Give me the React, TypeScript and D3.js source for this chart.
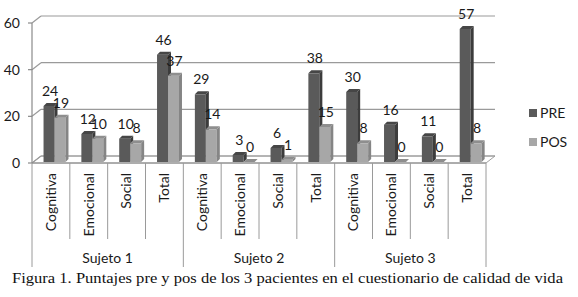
import React from 'react';
import * as d3 from 'd3';

const categories = ['Cognitiva', 'Emocional', 'Social', 'Total', 'Cognitiva', 'Emocional', 'Social', 'Total', 'Cognitiva', 'Emocional', 'Social', 'Total'];
const subjects = ['Sujeto 1', 'Sujeto 2', 'Sujeto 3'];
const preValues = [24, 12, 10, 46, 29, 3, 6, 38, 30, 16, 11, 57];
const posValues = [19, 10, 8, 37, 14, 0, 1, 15, 8, 0, 0, 8];
const seriesNames = ['PRE', 'POS'];
const yTicks = [0, 20, 40, 60];
const caption = 'Figura 1. Puntajes pre y pos de los 3 pacientes en el cuestionario de calidad de vida';

const W = 578;
const H = 297;
const FONT = 'Lato, "Open Sans", sans-serif';
const WDX = 9, WDY = -7; // wall depth
const BDX = 3, BDY = -3; // bar depth
const seriesColors = [
  { front: '#5a5a5a', top: '#464646', side: '#3c3c3c' },
  { front: '#a7a7a7', top: '#8e8e8e', side: '#858585' },
];

export default function App() {
  const x = d3.scaleBand<number>().domain(d3.range(categories.length)).range([32, 486]).padding(0);
  const bw = x.bandwidth();
  const y = d3.scaleLinear().domain([0, 60]).range([163, 23]);
  const inner = d3.scaleBand<number>().domain([0, 1]).range([bw * 0.305, bw * 0.885]).padding(0);
  const barW = inner.bandwidth();
  const base = y(0) - 1;
  const [x0, x1] = x.range();
  const xEnd = x1;
  const series = [preValues, posValues];

  const bars: React.ReactNode[] = [];
  const labels: React.ReactNode[] = [];
  categories.forEach((_, i) => {
    series.forEach((vals, s) => {
      const v = vals[i];
      const bx = (x(i) as number) + (inner(s) as number);
      const top = base - (y(0) - y(v));
      const c = seriesColors[s];
      bars.push(
        <g key={`b${i}-${s}`}>
          <rect x={bx} y={top} width={barW} height={base - top} fill={c.front} />
          <polygon
            points={`${bx + barW},${top} ${bx + barW + BDX},${top + BDY} ${bx + barW + BDX},${base + BDY} ${bx + barW},${base}`}
            fill={c.side}
          />
          <polygon
            points={`${bx},${top} ${bx + BDX},${top + BDY} ${bx + barW + BDX},${top + BDY} ${bx + barW},${top}`}
            fill={c.top}
          />
        </g>
      );
      labels.push(
        <text key={`l${i}-${s}`} x={bx + barW / 2 + 1} y={top - 10} textAnchor="middle" fontSize={14} fill="#1a1a1a" fontFamily={FONT}>
          {v}
        </text>
      );
    });
  });

  return (
    <svg width={W} height={H} style={{ position: 'absolute', left: 0, top: 0, background: '#fff' }}>
      <rect x={0} y={0} width={W} height={H} fill="#fff" />
      {/* floor */}
      <polygon
        points={`${x0},${y(0)} ${xEnd},${y(0)} ${xEnd + WDX},${y(0) + WDY} ${x0 + WDX},${y(0) + WDY}`}
        fill="#fff"
        stroke="#a0a0a0"
        strokeWidth={1}
      />
      {/* gridlines & axis */}
      {yTicks.map((t) => (
        <g key={`t${t}`}>
          <line x1={x0 + WDX} x2={xEnd + WDX} y1={y(t) + WDY} y2={y(t) + WDY} stroke="#9a9a9a" strokeWidth={1.2} />
          <line x1={x0} x2={x0 + WDX} y1={y(t)} y2={y(t) + WDY} stroke="#9a9a9a" strokeWidth={1.2} />
          <line x1={x0 - 4} x2={x0} y1={y(t)} y2={y(t)} stroke="#8a8a8a" strokeWidth={1.2} />
          <text x={20} y={y(t)} dy="0.35em" textAnchor="end" fontSize={14} fill="#1a1a1a" fontFamily={FONT}>
            {t}
          </text>
        </g>
      ))}
      <line x1={x0} x2={x0} y1={y(0)} y2={y(60)} stroke="#8a8a8a" strokeWidth={1.2} />
      {bars}
      {labels}
      {/* category axis */}
      <line x1={x0} x2={xEnd} y1={y(0)} y2={y(0)} stroke="#8a8a8a" strokeWidth={1.2} />
      {d3.range(categories.length + 1).map((i) => {
        const xx = x0 + i * bw;
        const isGroup = i % 4 === 0;
        return <line key={`d${i}`} x1={xx} x2={xx} y1={y(0)} y2={isGroup ? 267 : 239} stroke="#9a9a9a" strokeWidth={1} />;
      })}
      {categories.map((c, i) => (
        <text
          key={`c${i}`}
          transform={`translate(${(x(i) as number) + bw / 2},173) rotate(-90)`}
          textAnchor="end"
          dy="0.35em"
          fontSize={14}
          fill="#1a1a1a"
          fontFamily={FONT}
        >
          {c}
        </text>
      ))}
      {subjects.map((s, g) => (
        <text key={`s${g}`} x={x0 + (g * 4 + 2) * bw} y={258} dy="0.35em" textAnchor="middle" fontSize={14} fill="#1a1a1a" fontFamily={FONT}>
          {s}
        </text>
      ))}
      {/* legend */}
      {seriesNames.map((n, s) => (
        <g key={`lg${s}`} transform={`translate(529,${109 + s * 29})`}>
          <rect x={0} y={0} width={8} height={8} fill={seriesColors[s].front} />
          <text x={11} y={4} dy="0.35em" fontSize={14} fill="#1a1a1a" fontFamily={FONT}>
            {n}
          </text>
        </g>
      ))}
      <text x={12} y={283} fontSize={15} fill="#111" fontFamily='"Liberation Serif", "DejaVu Serif", serif' textLength={551} lengthAdjust="spacingAndGlyphs">
        {caption}
      </text>
    </svg>
  );
}
